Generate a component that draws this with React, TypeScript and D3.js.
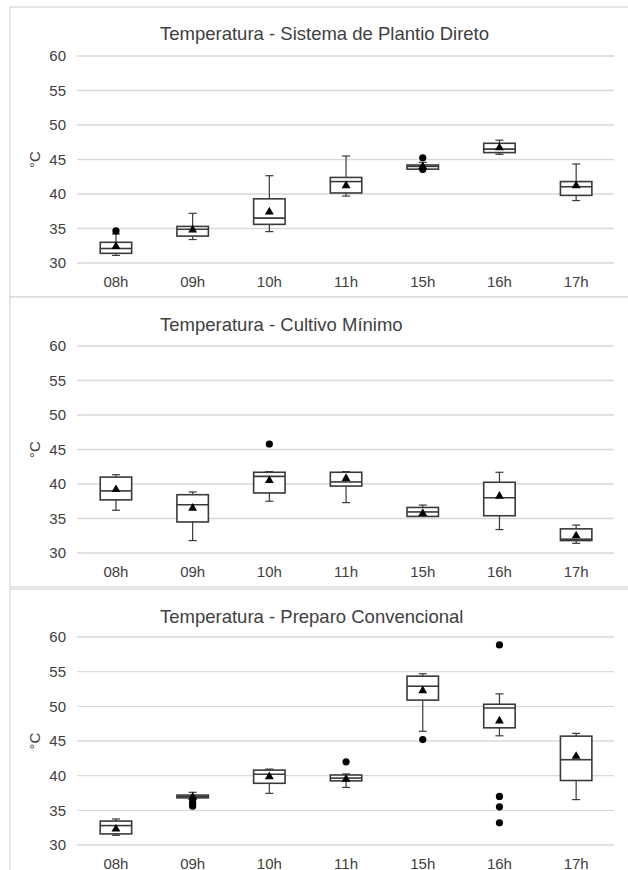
import React from "react";
import * as d3 from "d3";

const hours = ["08h", "09h", "10h", "11h", "15h", "16h", "17h"];
const yTicks = [30, 35, 40, 45, 50, 55, 60];

// Sistema de Plantio Direto
const spdLow = [31.1, 33.4, 34.55, 39.7, 43.6, 45.75, 39.05];
const spdQ1 = [31.4, 33.9, 35.6, 40.15, 43.6, 46.0, 39.8];
const spdMed = [32.1, 34.9, 36.5, 41.8, 44.0, 46.5, 41.05];
const spdQ3 = [33.0, 35.3, 39.3, 42.4, 44.2, 47.35, 41.8];
const spdHigh = [34.2, 37.2, 42.65, 45.5, 44.6, 47.8, 44.35];
const spdMean = [32.4, 34.8, 37.4, 41.2, 44.0, 46.7, 41.2];
const spdOut = [[34.65], [], [], [], [45.25, 43.55], [], []];

// Cultivo Mínimo
const cmLow = [36.2, 31.8, 37.5, 37.3, 35.3, 33.4, 31.4];
const cmQ1 = [37.7, 34.5, 38.7, 39.7, 35.3, 35.4, 31.8];
const cmMed = [39.0, 37.0, 41.1, 40.3, 35.95, 38.0, 32.0];
const cmQ3 = [41.0, 38.45, 41.7, 41.7, 36.6, 40.25, 33.5];
const cmHigh = [41.35, 38.85, 41.8, 41.8, 36.95, 41.7, 34.05];
const cmMean = [39.2, 36.5, 40.5, 40.8, 35.75, 38.25, 32.5];
const cmOut = [[], [], [45.8], [], [], [], []];

// Preparo Convencional
const pcLow = [31.4, 36.6, 37.45, 38.3, 46.4, 45.75, 36.55];
const pcQ1 = [31.6, 36.8, 38.9, 39.25, 50.9, 46.9, 39.3];
const pcMed = [32.8, 37.0, 40.2, 39.65, 52.9, 49.75, 42.3];
const pcQ3 = [33.45, 37.2, 40.8, 40.1, 54.35, 50.3, 45.7];
const pcHigh = [33.75, 37.6, 40.95, 40.25, 54.7, 51.8, 46.1];
const pcMean = [32.3, 36.9, 39.85, 39.5, 52.25, 47.9, 42.8];
const pcOut = [[], [36.25, 35.9, 35.6], [], [42.0], [45.2], [58.85, 37.0, 35.5, 33.2], []];

const panels = [
  { title: "Temperatura - Sistema de Plantio Direto", low: spdLow, q1: spdQ1, med: spdMed, q3: spdQ3, high: spdHigh, mean: spdMean, out: spdOut },
  { title: "Temperatura - Cultivo Mínimo", low: cmLow, q1: cmQ1, med: cmMed, q3: cmQ3, high: cmHigh, mean: cmMean, out: cmOut },
  { title: "Temperatura - Preparo Convencional", low: pcLow, q1: pcQ1, med: pcMed, q3: pcQ3, high: pcHigh, mean: pcMean, out: pcOut },
];

// panel frames: top, bottom, plot top (60) and plot bottom (30)
const frames = [
  { top: 7, bottom: 297, y60: 56, y30: 263, titleY: 40 },
  { top: 297, bottom: 587, y60: 346, y30: 553, titleY: 331 },
  { top: 589, bottom: 880, y60: 637, y30: 845, titleY: 623 },
];

const font = "'Liberation Sans', Arial, sans-serif";
const stroke = "#3a3a3a";
const textColor = "#404040";

const Panel = ({ p, f }) => {
  const x = d3.scaleBand().domain(hours).range([77.6, 614.5]);
  const y = d3.scaleLinear().domain([30, 60]).range([f.y30, f.y60]);
  const bw = x.bandwidth() * 0.41;
  const tri = d3.symbol().type(d3.symbolTriangle).size(34)();
  return (
    <g>
      <rect x={10} y={f.top} width={640} height={f.bottom - f.top} fill="#fff" stroke="#d9d9d9" strokeWidth={1.3} />
      <text x={160} y={f.titleY} fontFamily={font} fontSize={18.5} fill={textColor}>{p.title}</text>
      {yTicks.map((t) => (
        <g key={t}>
          <line x1={77} x2={614} y1={y(t)} y2={y(t)} stroke="#d9d9d9" strokeWidth={1.3} />
          <text x={66} y={y(t)} dy="0.36em" textAnchor="end" fontFamily={font} fontSize={15} fill={textColor}>{t}</text>
        </g>
      ))}
      <text transform={`translate(35,${y(45)}) rotate(-90)`} dy="0.36em" textAnchor="middle" fontFamily={font} fontSize={15} fill={textColor}>°C</text>
      {hours.map((h, i) => {
        const cx = x(h) + x.bandwidth() / 2;
        return (
          <g key={h}>
            <text x={cx} y={f.y30 + 23.5} textAnchor="middle" fontFamily={font} fontSize={15} fill={textColor}>{h}</text>
            <line x1={cx} x2={cx} y1={y(p.q3[i])} y2={y(p.high[i])} stroke={stroke} strokeWidth={1.2} />
            <line x1={cx} x2={cx} y1={y(p.q1[i])} y2={y(p.low[i])} stroke={stroke} strokeWidth={1.2} />
            <line x1={cx - 4} x2={cx + 4} y1={y(p.high[i])} y2={y(p.high[i])} stroke={stroke} strokeWidth={1.2} />
            <line x1={cx - 4} x2={cx + 4} y1={y(p.low[i])} y2={y(p.low[i])} stroke={stroke} strokeWidth={1.2} />
            <rect x={cx - bw / 2} y={y(p.q3[i])} width={bw} height={Math.max(y(p.q1[i]) - y(p.q3[i]), 1)} fill="#fff" stroke={stroke} strokeWidth={1.6} />
            <line x1={cx - bw / 2} x2={cx + bw / 2} y1={y(p.med[i])} y2={y(p.med[i])} stroke={stroke} strokeWidth={1.6} />
            <path d={tri} transform={`translate(${cx},${y(p.mean[i])})`} fill="#000" />
            {p.out[i].map((v, j) => (
              <circle key={j} cx={cx} cy={y(v)} r={3.6} fill="#000" />
            ))}
          </g>
        );
      })}
    </g>
  );
};

export default function App() {
  return (
    <svg width={628} height={870} style={{ position: "absolute", left: 0, top: 0, background: "#fff" }}>
      {panels.map((p, k) => (
        <Panel key={k} p={p} f={frames[k]} />
      ))}
    </svg>
  );
}
